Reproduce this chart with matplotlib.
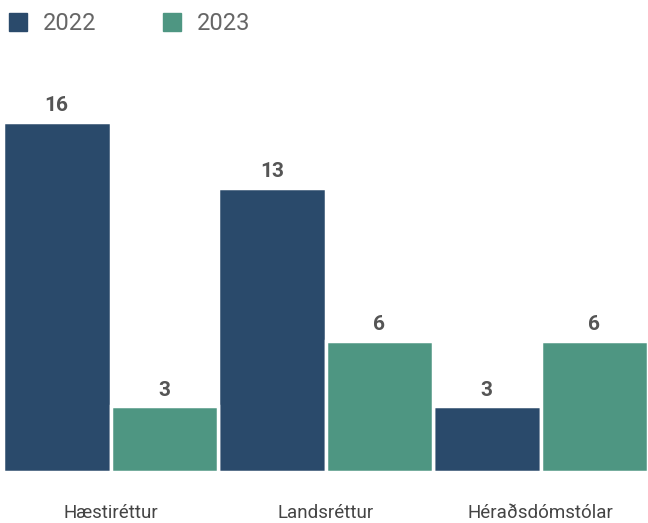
import numpy as np
import matplotlib
matplotlib.use("Agg")
import matplotlib.pyplot as plt
from matplotlib.patches import Rectangle

categories = ["Hæstiréttur", "Landsréttur", "Héraðsdómstólar"]
series_names = ["2022", "2023"]
values_2022 = [16, 13, 3]
values_2023 = [3, 6, 6]

colors = ["#2a4a6b", "#4e9682"]
label_color = "#555555"

plt.rcParams["font.family"] = ["Roboto", "DejaVu Sans"]

fig = plt.figure(figsize=(6.48, 5.23), dpi=100)
# axes: baseline at y=472px, 20 units tall
ax = fig.add_axes([3 / 648, 51 / 523, 645 / 648, 437.5 / 523])

x = np.arange(len(categories))
w = 0.5
for i, vals in enumerate([values_2022, values_2023]):
    pos = x - 0.25 + i * w
    bars = ax.bar(pos, vals, width=w, color=colors[i], edgecolor="white", linewidth=2.5)
    for xp, v in zip(pos, vals):
        ax.text(xp, v + 0.3, str(v), ha="center", va="bottom", fontsize=15,
                fontweight="bold", color=label_color)

ax.set_xlim(-0.5, 2.5)
ax.set_ylim(0, 20)
ax.set_yticks([])
ax.set_xticks(x)
ax.set_xticklabels(categories, fontsize=13.5, color="#444444")
ax.tick_params(axis="x", length=0, pad=23)
for s in ax.spines.values():
    s.set_visible(False)

# legend drawn by hand in figure pixels
legend_x = [9, 163]
for lx, name, c in zip(legend_x, series_names, colors):
    fig.patches.append(Rectangle((lx / 648, 1 - 31 / 523), 18 / 648, 18 / 523,
                                 transform=fig.transFigure, color=c))
    fig.text((lx + 34) / 648, 1 - 23 / 523, name, ha="left", va="center",
             fontsize=17, color="#666666")

fig.savefig("out.png", dpi=100)
